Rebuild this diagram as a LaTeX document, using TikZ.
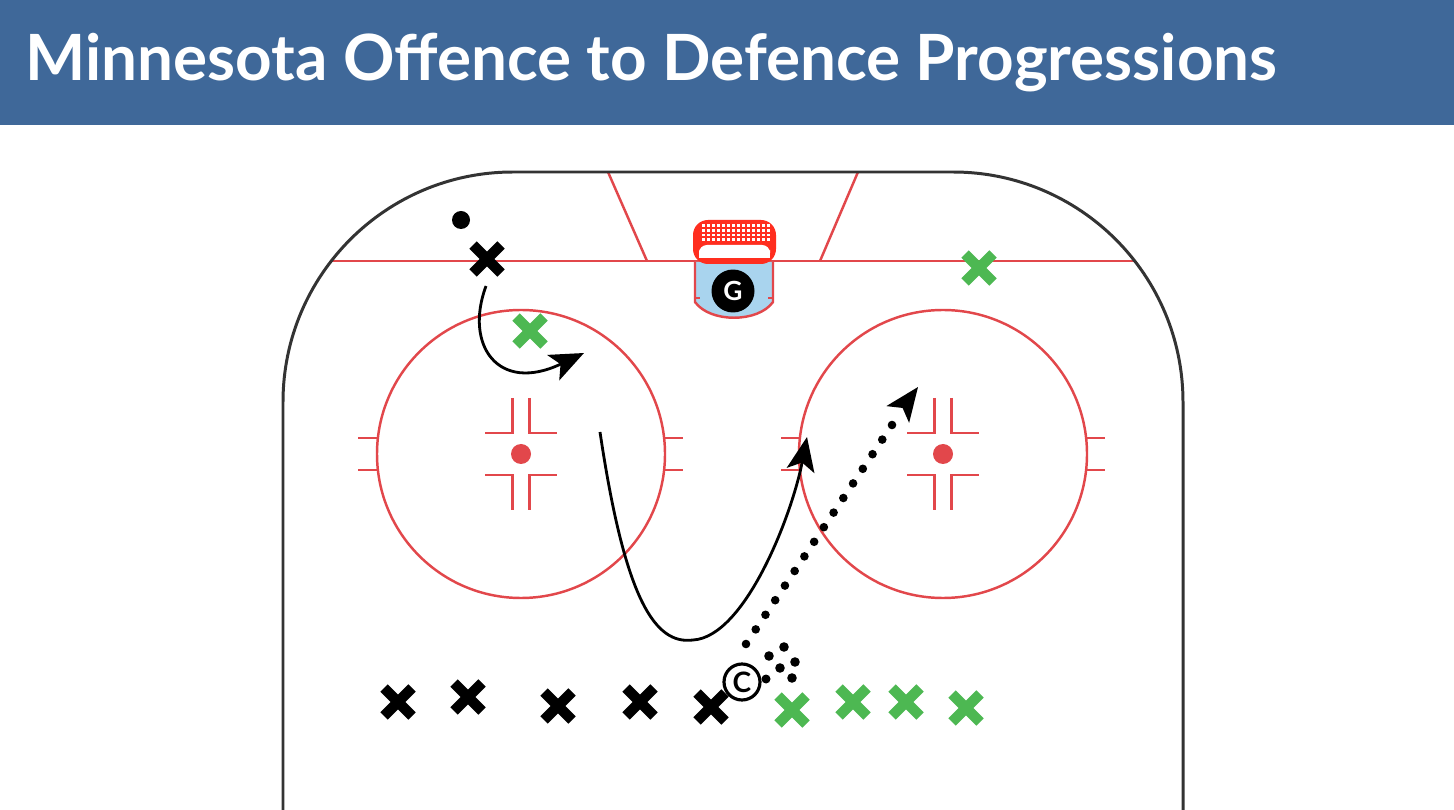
\documentclass[tikz,border=0pt]{standalone}
\usepackage{fontspec}
\setmainfont{Lato}
\usetikzlibrary{arrows.meta,calc}
\definecolor{titlebar}{HTML}{3F6899}
\definecolor{rinkred}{HTML}{E2474B}
\definecolor{netred}{HTML}{FF2E1F}
\definecolor{pgreen}{HTML}{4DB852}
\definecolor{crease}{HTML}{A9D4EE}
\definecolor{boards}{HTML}{333333}
\tikzset{
  redline/.style={draw=rinkred, line width=1.4pt},
  boardline/.style={draw=boards, line width=1.7pt},
  skatepath/.style={draw=black, line width=1.6pt, -{Stealth[length=0.68cm,width=0.56cm,inset=0.16cm]}},
  passtip/.style={draw=black, line width=1.6pt, -{Stealth[length=0.68cm,width=0.56cm,inset=0.16cm]}},
  xmark/.pic={\coordinate (-c) at (0,0);
    \draw[line width=6pt] (-14,-14)--(14,14) (-14,14)--(14,-14);},
  faceoff/.pic={\coordinate (-c) at (0,0);
    \fill[rinkred] (0,0) circle (10);
    \draw[redline] (-8.5,-56)--(-8.5,-21)--(-36,-21)
                   (8.5,-56)--(8.5,-21)--(36,-21)
                   (-8.5,56)--(-8.5,21)--(-36,21)
                   (8.5,56)--(8.5,21)--(36,21);},
}
\begin{document}
\begin{tikzpicture}[x=0.02cm,y=-0.02cm]
\useasboundingbox (0,0) rectangle (1454,810);
\fill[white] (0,0) rectangle (1454,810);
% title bar
\fill[titlebar] (0,0) rectangle (1454,125);
\node[anchor=base west, text=white, font=\bfseries\fontsize{36.3}{40}\selectfont, inner sep=0pt] (title) at (25,81) {Minnesota Offence to Defence Progressions};
% goal line and trapezoid
\draw[redline] (331,261) -- (1135,261);
\draw[redline] (608,172) -- (647,261) (858,172) -- (820,261);
% faceoff circles
\draw[redline] (521,454) circle (144);
\draw[redline] (943,454) circle (144);
\draw[redline] (358,438)--(378,438) (358,470)--(378,470)
               (664,438)--(683,438) (664,470)--(683,470)
               (781,438)--(800,438) (781,470)--(800,470)
               (1086,438)--(1105,438) (1086,470)--(1105,470);
\pic (fl) at (521,454) {faceoff};
\pic (fr) at (943,454) {faceoff};
% boards
\draw[boardline] (283,812) -- (283,402) arc (180:270:230) -- (953,172) arc (270:360:230) -- (1183,812);
% crease
\filldraw[fill=crease, draw=rinkred, line width=1.4pt] (695,262) -- (695,302) .. controls (710,323) and (758,323) .. (773,302) -- (773,262);
\draw[redline] (695,298) -- (700,298) (768,298) -- (773,298);
% net
\fill[netred, rounded corners=0.3cm] (693,264) -- (693,220) -- (776,220) -- (776,264) -- cycle;
\foreach \i in {0,...,13} \foreach \j in {0,...,3}
  \fill[white] (702+\i*5, 224.5+\j*4.6) rectangle ++(3,2.8);
\fill[white, rounded corners=0.16cm] (699,258) -- (699,245) -- (770,245) -- (770,258) -- cycle;
\fill[white] (699,252) rectangle (770,258);
% goalie
\node[circle, fill=black, minimum size=0.86cm, inner sep=0pt, text=white, font=\bfseries\fontsize{15}{15}\selectfont] (goalie) at (733,291) {G};
% puck
\fill[black] (461,220) circle (9);
% players
\pic (b0) at (487,259) {xmark};
\pic[pgreen] (g0) at (530,331) {xmark};
\pic[pgreen] (g1) at (979,268) {xmark};
\pic (b1) at (398,702) {xmark};
\pic (b2) at (468,697) {xmark};
\pic (b3) at (558,706) {xmark};
\pic (b4) at (640,702) {xmark};
\pic (b5) at (711,707) {xmark};
\pic[pgreen] (g2) at (792,710) {xmark};
\pic[pgreen] (g3) at (853,702) {xmark};
\pic[pgreen] (g4) at (906,702) {xmark};
\pic[pgreen] (g5) at (966,708) {xmark};
% coach
\node[circle, draw=black, line width=1.8pt, fill=white, minimum size=0.72cm, inner sep=0pt, font=\bfseries\fontsize{16}{16}\selectfont] (coach) at (742,682) {C};
\fill[black] (766,679) circle (4.5);
% puck pile
\foreach \p in {(784,647),(769,656),(795,662),(780,668),(792,678)}
  \fill[black] \p circle (4.8);
% skating paths
\coordinate (s1) at (486,286);
\coordinate (e1) at (584,353);
\draw[skatepath] (s1) .. controls (464,345) and (498,394) .. (e1);
\coordinate (s2) at (600,432);
\coordinate (m2) at (693,640);
\coordinate (e2) at (807,437);
\draw[skatepath] (s2) .. controls (625,600) and (655,645) .. (m2) .. controls (745,637) and (792,515) .. (e2);
% pass (dotted)
\coordinate (ps) at (746,644);
\coordinate (pe) at (892,425);
\coordinate (pt) at (918,387);
\foreach \i in {0,...,15}
  \fill[black] ($(ps)!\i/15!(pe)$) circle (4.3);
\draw[passtip] ($(ps)!1.13!(pe)$) -- (pt);
\end{tikzpicture}
\end{document}
